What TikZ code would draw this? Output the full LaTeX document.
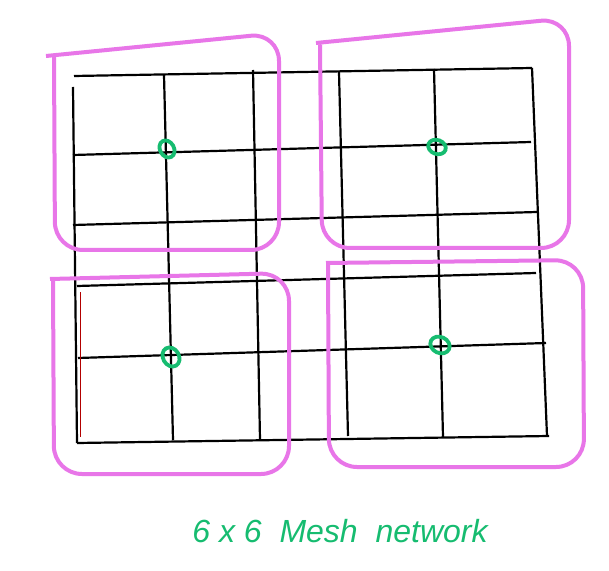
\documentclass[tikz,border=0pt]{standalone}
\usepackage{fontspec}
\setsansfont{Liberation Sans}
\usepackage{tikz}
\usetikzlibrary{calc}
\usetikzlibrary{shapes}

\definecolor{penpink}{RGB}{232,118,232}
\definecolor{pengreen}{RGB}{22,188,112}

\tikzset{
  meshline/.style={line width=1.1pt, black},
  cluster/.style={line width=2pt, penpink, rounded corners=14pt},
  hub/.style={line width=1.9pt, pengreen},
  caption/.style={text=pengreen, font=\sffamily\itshape\fontsize{16}{16}\selectfont}
}

\begin{document}
\begin{tikzpicture}[x=0.5pt, y=-0.5pt]
  \useasboundingbox[fill=white] (0,0) rectangle (609,571);

  % rows of the mesh
  \draw[meshline] (74,76) -- (532,68);
  \draw[meshline] (73,155) -- (531,142);
  \draw[meshline] (73,225) -- (537,212);
  \draw[meshline] (77,286) -- (536,273);
  \draw[meshline] (78,358) -- (546,343);
  \draw[meshline] (77,443) -- (549,436);

  % columns of the mesh
  \draw[meshline] (73,87) -- (77,443);
  \draw[meshline] (164,75) -- (173,440);
  \draw[meshline] (253,70) -- (260,440);
  \draw[meshline] (339,72) -- (348,436);
  \draw[meshline] (434,69) -- (443,437);
  \draw[meshline] (532,68) -- (547,436);
  \draw[red!70!black, line width=0.4pt] (80,292) -- (80,437);

  % the four clusters
  \draw[cluster] (46,56) -- (279,33) -- (279,250) -- (55,250) -- (54,57);
  \draw[cluster] (316,43) -- (569,18) -- (569,248) -- (322,248) -- (320,45);
  \draw[cluster] (50,279) -- (289,273) -- (289,474) -- (54,474) -- (53,281);
  \draw[cluster] (326,263) -- (583,260) -- (584,467) -- (329,467) -- (328,265);

  % cluster heads
  \draw[hub] (167,149) ellipse[x radius=7, y radius=9, rotate=30];
  \draw[hub] (437,147) ellipse[x radius=9, y radius=7, rotate=-20];
  \draw[hub] (171,357) ellipse[x radius=8, y radius=10, rotate=30];
  \draw[hub] (440,345) ellipse[x radius=10, y radius=8, rotate=-25];

  \node[caption] (title) at (340,531) {6 x 6 \ Mesh \ network};
\end{tikzpicture}
\end{document}
